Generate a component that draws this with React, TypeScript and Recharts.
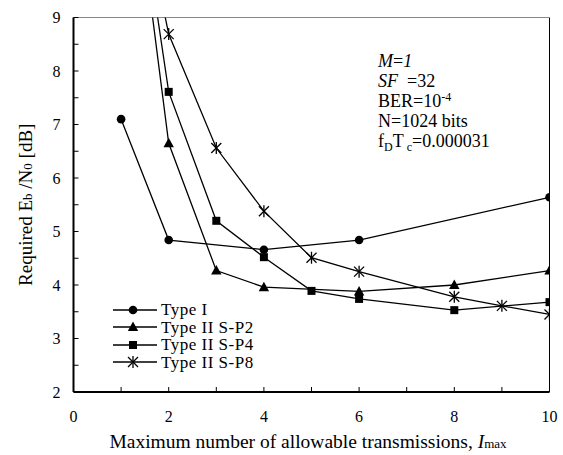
import { LineChart, Line, XAxis, YAxis, ReferenceLine, Label } from 'recharts'

const xTicks = [0, 1, 2, 3, 4, 5, 6, 7, 8, 9, 10]
const yTicks = [2, 2.5, 3, 3.5, 4, 4.5, 5, 5.5, 6, 6.5, 7, 7.5, 8, 8.5, 9]

const typeIX = [1, 2, 4, 6, 10]
const typeIY = [7.1, 4.84, 4.66, 4.84, 5.64]

const sp2X = [1, 2, 3, 4, 6, 8, 10]
const sp2Y = [13.6, 6.65, 4.27, 3.96, 3.88, 4.0, 4.27]

const sp4X = [1, 2, 3, 4, 5, 6, 8, 10]
const sp4Y = [13.6, 7.61, 5.2, 4.52, 3.89, 3.74, 3.53, 3.68]

const sp8X = [1, 2, 3, 4, 5, 6, 8, 9, 10]
const sp8Y = [13.0, 8.69, 6.56, 5.38, 4.51, 4.25, 3.78, 3.61, 3.45]

const toPoints = (xs: number[], ys: number[]) => xs.map((x, i) => ({ x, y: ys[i] }))

const FONT = '"Liberation Serif", "Times New Roman", serif'

function Marker({ kind, cx, cy }: { kind: string; cx: number; cy: number }) {
  if (kind === 'circle') return <circle cx={cx} cy={cy} r={4.3} fill="#000" />
  if (kind === 'triangle')
    return <polygon points={`${cx},${cy - 5.5} ${cx - 5.2},${cy + 4} ${cx + 5.2},${cy + 4}`} fill="#000" />
  if (kind === 'square') return <rect x={cx - 4} y={cy - 4} width={8} height={8} fill="#000" />
  return (
    <g stroke="#000" strokeWidth={1.3}>
      <line x1={cx - 5} y1={cy - 5} x2={cx + 5} y2={cy + 5} />
      <line x1={cx - 5} y1={cy + 5} x2={cx + 5} y2={cy - 5} />
      <line x1={cx} y1={cy - 6} x2={cx} y2={cy + 6} />
    </g>
  )
}

const series = [
  { name: 'Type I', kind: 'circle', data: toPoints(typeIX, typeIY) },
  { name: 'Type II S-P2', kind: 'triangle', data: toPoints(sp2X, sp2Y) },
  { name: 'Type II S-P4', kind: 'square', data: toPoints(sp4X, sp4Y) },
  { name: 'Type II S-P8', kind: 'star', data: toPoints(sp8X, sp8Y) }
]

const XTick = (props: any) => {
  const { x, y, payload } = props
  return (
    <g>
      <line x1={x} y1={y} x2={x} y2={y - 5} stroke="#000" />
      {payload.value % 2 === 0 && (
        <text x={x} y={y + 30} textAnchor="middle" fontSize={16} fontFamily={FONT} fill="#000">
          {payload.value}
        </text>
      )}
    </g>
  )
}

const YTick = (props: any) => {
  const { x, y, payload } = props
  return (
    <g>
      <line x1={x} y1={y} x2={x + 5} y2={y} stroke="#000" />
      {Number.isInteger(payload.value) && (
        <text x={x - 13} y={y + 5.5} textAnchor="end" fontSize={16} fontFamily={FONT} fill="#000">
          {payload.value}
        </text>
      )}
    </g>
  )
}

const sub = { fontSize: 12 }

export default function App() {
  return (
    <div style={{ position: 'absolute', left: 0, top: 0, width: 563, height: 455, background: '#fff' }}>
      <LineChart width={563} height={455} margin={{ top: 17.5, right: 13.5, bottom: 0, left: 0 }}>
        <XAxis
          type="number"
          dataKey="x"
          domain={[0, 10]}
          ticks={xTicks}
          interval={0}
          allowDataOverflow
          tickSize={0}
          tickMargin={0}
          tickLine={false}
          tick={XTick}
          axisLine={{ stroke: '#000', strokeWidth: 2 }}
          height={63}
        >
          <Label
            content={() => (
              <text x={308} y={448} textAnchor="middle" fontSize={19.5} fontFamily={FONT} fill="#000">
                Maximum number of allowable transmissions,{' '}
                <tspan fontStyle="italic">I</tspan>
                <tspan fontSize={13}>max</tspan>
              </text>
            )}
          />
        </XAxis>
        <YAxis
          type="number"
          dataKey="y"
          domain={[2, 9]}
          ticks={yTicks}
          interval={0}
          allowDataOverflow
          width={73.5}
          tickSize={0}
          tickMargin={0}
          tickLine={false}
          tick={YTick}
          axisLine={{ stroke: '#000', strokeWidth: 2 }}
        >
          <Label
            content={(p: any) => {
              const cy = p.viewBox ? p.viewBox.y + p.viewBox.height / 2 : 204.75
              return (
                <text
                  x={32}
                  y={cy}
                  transform={`rotate(-90, 32, ${cy})`}
                  textAnchor="middle"
                  fontSize={19}
                  fontFamily={FONT}
                  fill="#000"
                >
                  Required E<tspan fontSize={13}>b</tspan> /N<tspan fontSize={13}>0</tspan> [dB]
                </text>
              )
            }}
          />
        </YAxis>
        <ReferenceLine x={10} stroke="#000" strokeWidth={1} />
        <ReferenceLine y={9} stroke="#888" strokeWidth={1} />
        {series.map((s) => (
          <Line
            key={s.name}
            data={s.data}
            dataKey="y"
            name={s.name}
            stroke="#000"
            strokeWidth={1.3}
            isAnimationActive={false}
            dot={(p: any) =>
              p.cx == null || p.cy == null ? <g key={p.key} /> : <Marker key={p.key} kind={s.kind} cx={p.cx} cy={p.cy} />
            }
            activeDot={false}
          />
        ))}
      </LineChart>
      <div
        style={{
          position: 'absolute',
          left: 113,
          top: 301,
          fontFamily: FONT,
          fontSize: 17,
          color: '#000',
          whiteSpace: 'nowrap'
        }}
      >
        {series.map((s) => (
          <div key={s.name} style={{ display: 'flex', alignItems: 'center', height: 17.5 }}>
            <svg width={44} height={14} style={{ overflow: 'visible' }}>
              <line x1={0} y1={7} x2={44} y2={7} stroke="#000" strokeWidth={1.3} />
              <Marker kind={s.kind} cx={20} cy={7} />
            </svg>
            <span style={{ marginLeft: 4, lineHeight: '17.5px', letterSpacing: 0.5 }}>{s.name}</span>
          </div>
        ))}
      </div>
      <div
        style={{
          position: 'absolute',
          left: 378,
          top: 51,
          fontFamily: FONT,
          fontSize: 18,
          lineHeight: '20px',
          color: '#000',
          whiteSpace: 'nowrap'
        }}
      >
        <div>
          <i>M</i>=<i>1</i>
        </div>
        <div>
          <i>SF</i>&nbsp;&nbsp;=32
        </div>
        <div>
          BER=10<sup style={{ fontSize: 12, verticalAlign: 6, lineHeight: 0 }}>-4</sup>
        </div>
        <div>N=1024 bits</div>
        <div>
          f<sub style={{ ...sub, verticalAlign: -4, lineHeight: 0 }}>D</sub>T
          <sub style={{ ...sub, verticalAlign: -4, lineHeight: 0 }}>&nbsp;c</sub>=0.000031
        </div>
      </div>
    </div>
  )
}
